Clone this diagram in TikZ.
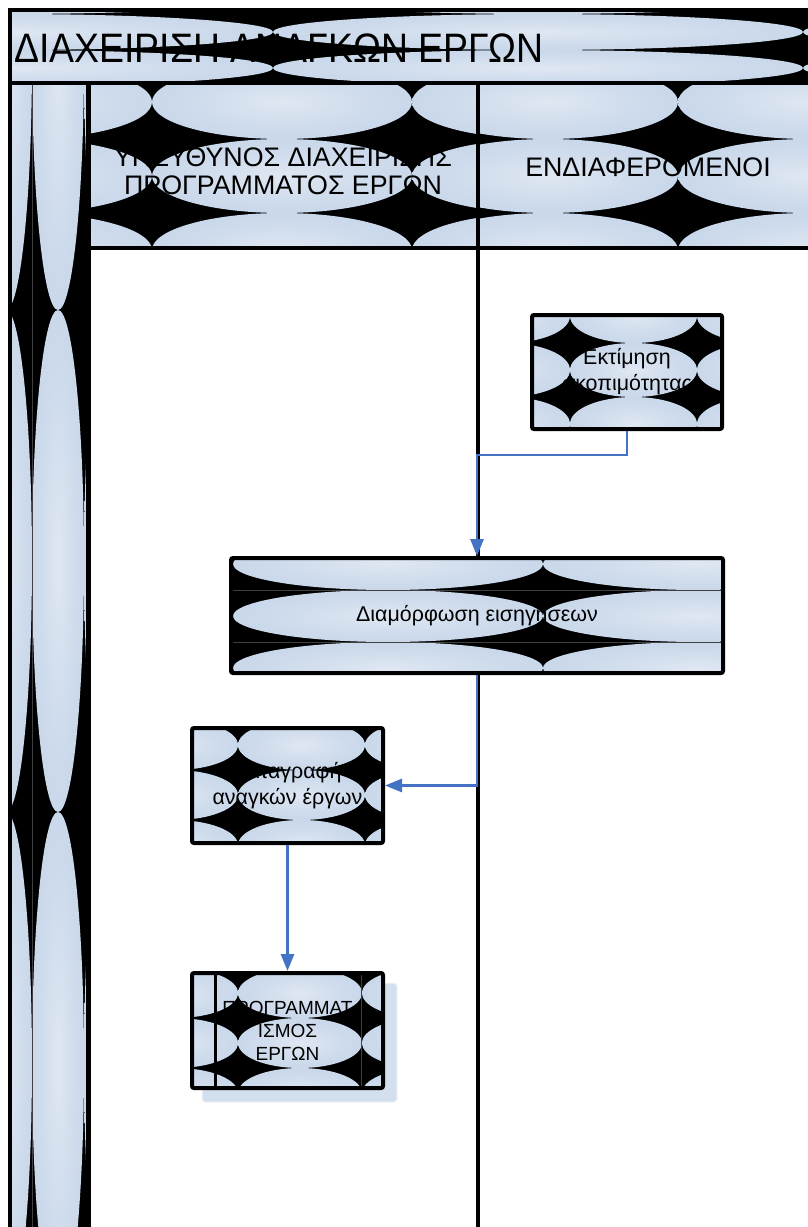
\documentclass[tikz,border=0pt]{standalone}
\usepackage{fontspec}
\setmainfont{Liberation Sans}
\usetikzlibrary{arrows.meta}
\definecolor{ovalin}{HTML}{DFE7F2}
\definecolor{ovalout}{HTML}{B8CCE4}
\definecolor{flow}{HTML}{4472C4}
\definecolor{shadowfill}{HTML}{D4DFEE}

% soft oval shading: light centre fading out to the rim
\pgfdeclareradialshading{oval}{\pgfpoint{0bp}{0bp}}{%
  color(0bp)=(ovalin); color(18bp)=(ovalin!55!ovalout); color(50bp)=(ovalout)}

% Black panel covered by a grid of shaded ovals, clipped to the panel.
% #1,#2 panel corners; #3 oval centres (x); #4 oval centres (y); #5 semi-axes
\newcommand\ovaltiles[5]{%
  \begin{scope}
    \clip #1 rectangle #2;
    \fill[black] #1 rectangle #2;
    \foreach \cx in {#3}{\foreach \cy in {#4}{
      \shade[shading=oval] (\cx,\cy) ellipse (#5);}}
  \end{scope}}

\tikzset{
  frame/.style={line width=4pt, black},
  stepbox/.style={draw=black, line width=4pt, rounded corners=2pt, inner sep=0pt,
    align=center, font=\fontsize{21.4}{26}\selectfont},
  flowline/.style={draw=flow, line width=2.8pt, -{Triangle[length=17pt,width=13pt]}},
  hair/.style={line width=0.8pt, black!75},
}

\begin{document}
\begin{tikzpicture}[x=1pt,y=-1pt]
\useasboundingbox (0,0) rectangle (808,1227);
\clip (0,0) rectangle (808,1227);
\fill[white] (0,0) rectangle (808,1227);

% ---- pool frame: title band, role column, lane headers ----
\ovaltiles{(10,10)}{(830,83)}{8,538,1068}{-4,32,68,104}{265 and 18}
\ovaltiles{(10,83)}{(88,1240)}{6,58,110}{59,561,1063,1565}{26 and 251}
\ovaltiles{(88,83)}{(478,248)}{22,282,542}{102,176,250}{130 and 37}
\ovaltiles{(478,83)}{(830,248)}{548,808}{102,176,250}{130 and 37}
\draw[hair] (32,83) -- (32,1240);

\draw[frame] (10,10) rectangle (830,83);
\draw[frame] (10,83) -- (10,1240);
\draw[line width=5pt] (88,83) -- (88,1240);
\draw[frame] (478,83) -- (478,1240);
\draw[frame] (88,248) -- (830,248);

\node[anchor=base west, inner sep=0pt] (title) at (14,62)
  {\scalebox{1}[1.1]{\fontsize{37.4}{40}\selectfont ΔΙΑΧΕΙΡΙΣΗ ΑΝΑΓΚΩΝ ΕΡΓΩΝ}};
\node[align=center, font=\fontsize{26.8}{28}\selectfont] (lane1) at (283,171)
  {ΥΠΕΥΘΥΝΟΣ ΔΙΑΧΕΙΡΙΣΗΣ\\ΠΡΟΓΡΑΜΜΑΤΟΣ ΕΡΓΩΝ};
\node[font=\fontsize{26.8}{28}\selectfont] (lane2) at (648,167) {ΕΝΔΙΑΦΕΡΟΜΕΝΟΙ};

% ---- process boxes: panels first, then outlined nodes with text ----
\ovaltiles{(532,313)}{(722,427)}{506.5,633.5,760.5}{316,370,424}{63.5 and 27}
\ovaltiles{(231,558)}{(723,673)}{78,388,698}{564,616,668}{155 and 26}
\draw[hair] (233,590) -- (722,590);
\draw[hair] (233,642) -- (722,642);
\ovaltiles{(192,728)}{(383,843)}{174.5,301.5,428.5}{745,795,845}{63.5 and 25}

\fill[shadowfill, rounded corners=3pt] (202,983) rectangle (397,1102);
\draw[white!70!shadowfill, line width=1pt, rounded corners=3pt] (202,983) rectangle (397,1102);
\ovaltiles{(192,973)}{(383,1088)}{176,300,424}{993,1043,1093}{62 and 25}
\draw[line width=3pt] (215,973) -- (215,1088);
\draw[hair] (361,973) -- (361,1088);

\node[stepbox, minimum width=190pt, minimum height=114pt] (est) at (627,372)
  {Εκτίμηση\\σκοπιμότητας};
\node[stepbox, minimum width=492pt, minimum height=115pt] (dia) at (477,615.5)
  {Διαμόρφωση εισηγήσεων};
\node[stepbox, minimum width=191pt, minimum height=115pt] (kat) at (287.5,785.5)
  {Καταγραφή\\αναγκών έργων};
\node[stepbox, minimum width=191pt, minimum height=115pt,
  font=\fontsize{19}{23}\selectfont] (prog) at (287.5,1030.5)
  {ΠΡΟΓΡΑΜΜΑΤ\\ΙΣΜΟΣ\\ΕΡΓΩΝ};

% ---- flow ----
\coordinate (bend) at (477,455);
\draw[flowline] (est.south) |- (bend) -- (dia.north);
\draw[flowline] (dia.south) |- (kat.east);
\draw[flowline] (kat.south) -- (prog.north);
\end{tikzpicture}
\end{document}
